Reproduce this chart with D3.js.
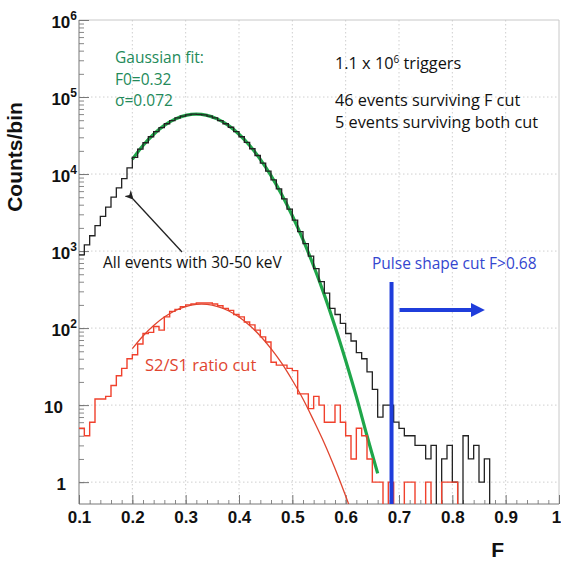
<!DOCTYPE html>
<html lang="en">
  <head>
    <meta charset="UTF-8"/>
    <title>Pulse shape discrimination</title>
    <script src="https://d3js.org/d3.v7.min.js"></script>
    <style>
      body { margin: 0; background: #fff; }
      text { font-family: 'Open Sans', sans-serif; }
      .axis-num { font-family: 'Liberation Sans', Arial, sans-serif; font-weight: bold; fill: #111; }
      .grid line { stroke: #cfcfcf; stroke-dasharray: 1.5,2.5; }
    </style>
  </head>
  <body>
    <script>
      // histogram binning (F), 0.01 wide bins starting at 0.10
      const binStart = 0.10
      const binWidth = 0.01

      // all events with 30-50 keV (counts per bin)
      const allEvents = [
        890, 1200, 1580, 2140, 2820, 3720, 5010, 6610, 8710, 12000,
        16500, 21000, 25500, 30500, 35500, 40000, 45000, 49500, 53500, 56500,
        58500, 60000, 59500, 58500, 56500, 53500, 49500, 45000, 40500, 35500,
        30500, 25800, 21300, 17400, 13900, 10900, 8400, 6400, 4750, 3500,
        2520, 1790, 1250, 860, 590, 400, 285, 180, 150, 115,
        85, 68, 48, 40, 27, 16, 7, 10, 10, 6,
        5, 4, 4, 3, 3, 2, 3, 0, 2, 3,
        1, 0, 4, 2, 3, 1, 2
      ]

      // events surviving the S2/S1 ratio cut
      const ratioCut = [
        5, 4, 6, 12, 12, 13, 18, 24, 30, 40,
        45, 62, 85, 88, 105, 94, 140, 165, 175, 190,
        200, 205, 212, 212, 212, 205, 195, 180, 170, 150,
        140, 120, 110, 94, 77, 66, 36, 33, 33, 30,
        28, 14, 14, 9, 13, 10, 6, 6, 10, 6,
        4, 2, 5, 4, 2, 1, 1, 0, 1, 0,
        0, 1, 1, 0, 0, 1, 0, 0, 1, 1,
        1
      ]

      // Gaussian fit of all events (F0=0.32, sigma=0.072)
      const gaussFitF = [0.20, 0.22, 0.24, 0.26, 0.28, 0.30, 0.32, 0.34, 0.36, 0.38, 0.40, 0.42,
                         0.44, 0.46, 0.48, 0.50, 0.52, 0.54, 0.56, 0.58, 0.60, 0.62, 0.64, 0.66]
      const gaussFitCounts = [15500, 23500, 32900, 42800, 51600, 57800, 60000, 57800, 51600, 42800, 32900, 23500,
                              15500, 9530, 5430, 2870, 1406, 640, 270, 105, 38, 12.9, 4.0, 1.3]

      // fit of the ratio-cut spectrum
      const ratioFitF = [0.20, 0.22, 0.24, 0.26, 0.28, 0.30, 0.32, 0.34, 0.36, 0.38, 0.40, 0.42,
                         0.44, 0.46, 0.48, 0.50, 0.52, 0.54, 0.56, 0.58, 0.60, 0.62]
      const ratioFitCounts = [54, 79, 108, 139, 168, 190, 203, 203, 190, 168, 139, 108,
                              79, 54, 35, 21, 12, 6.3, 3.2, 1.5, 0.66, 0.27]

      const xTicks = [0.1, 0.2, 0.3, 0.4, 0.5, 0.6, 0.7, 0.8, 0.9, 1]
      const yExponents = [0, 1, 2, 3, 4, 5, 6]
      const cutF = 0.686

      const outerWidth = 561,
            outerHeight = 563,
            margin = ({top: 20, right: 2, bottom: 59, left: 79}),
            width = outerWidth - margin.left - margin.right,
            height = outerHeight - margin.top - margin.bottom

      const svg = d3.select("body").append("svg")
          .attr("width", outerWidth)
          .attr("height", outerHeight)

      const defs = svg.append("defs")
      defs.append("clipPath").attr("id", "plot-clip")
        .append("rect").attr("width", width).attr("height", height)

      defs.append("marker")
          .attr("id", "head-black")
          .attr("viewBox", "0 0 10 10")
          .attr("refX", 1).attr("refY", 5)
          .attr("markerWidth", 9).attr("markerHeight", 9)
          .attr("markerUnits", "userSpaceOnUse")
          .attr("orient", "auto-start-reverse")
        .append("path").attr("d", "M0,5 L10,0 L7,5 L10,10 Z").attr("fill", "#222")

      defs.append("marker")
          .attr("id", "head-blue")
          .attr("viewBox", "0 0 10 10")
          .attr("refX", 2).attr("refY", 5)
          .attr("markerWidth", 14).attr("markerHeight", 14)
          .attr("markerUnits", "userSpaceOnUse")
          .attr("orient", "auto")
        .append("path").attr("d", "M0,0 L10,5 L0,10 Z").attr("fill", "#1f3ddb")

      const g = svg.append("g")
          .attr("transform", `translate(${margin.left},${margin.top})`)

      const xScale = d3.scaleLinear().domain([0.1, 1]).range([0, width])
      const yScale = d3.scaleLog().domain([0.52, 1e6]).range([height, 0])
      const yOf = v => v > 0 ? yScale(v) : height + 4

      // grid
      const grid = g.append("g").attr("class", "grid")
      grid.selectAll(".gx").data(xTicks.slice(1, -1)).join("line")
          .attr("x1", d => xScale(d)).attr("x2", d => xScale(d))
          .attr("y1", 0).attr("y2", height)
      grid.selectAll(".gy").data(yExponents.slice(0, -1)).join("line")
          .attr("x1", 0).attr("x2", width)
          .attr("y1", d => yScale(Math.pow(10, d))).attr("y2", d => yScale(Math.pow(10, d)))

      // frame
      g.append("path")
          .attr("d", `M0,0 H${width} V${height}`)
          .attr("fill", "none").attr("stroke", "#c8c8c8").attr("stroke-width", 1)

      // axes with inside ticks
      const minorX = d3.range(10, 100, 2).map(d => d / 100)
      g.append("g")
          .attr("transform", `translate(0,${height})`)
          .call(d3.axisTop(xScale).tickValues(minorX).tickSize(4).tickFormat(""))
          .call(a => a.select(".domain").remove())
          .selectAll("line").attr("stroke", "#888")

      const xAxis = g.append("g")
          .attr("transform", `translate(0,${height})`)
          .call(d3.axisTop(xScale).tickValues(xTicks).tickSize(9).tickFormat(""))
      xAxis.select(".domain").attr("stroke", "#777").attr("d", `M0,0H${width}`)
      xAxis.selectAll("line").attr("stroke", "#777")
      xAxis.selectAll(".tick").append("text")
          .attr("class", "axis-num")
          .attr("y", 19)
          .attr("x", d => d === 1 ? -3 : 0)
          .attr("text-anchor", "middle")
          .attr("font-size", 17)
          .text(d => d3.format("")(d))

      const minorY = yScale.ticks().filter(v => v >= 1)
      g.append("g")
          .call(d3.axisRight(yScale).tickValues(minorY).tickSize(5).tickFormat(""))
          .call(a => a.select(".domain").remove())
          .selectAll("line").attr("stroke", "#888")

      const yAxis = g.append("g")
          .call(d3.axisRight(yScale).tickValues(yExponents.map(e => Math.pow(10, e))).tickSize(10).tickFormat(""))
      yAxis.select(".domain").attr("stroke", "#777").attr("d", `M0,0V${height}`)
      yAxis.selectAll("line").attr("stroke", "#777")

      yAxis.selectAll(".tick").data(yExponents).each(function (e) {
        const t = d3.select(this).append("text")
            .attr("class", "axis-num")
            .attr("text-anchor", "end")
            .attr("font-size", 17)
            .attr("y", 7)
        if (e === 0) {
          t.attr("x", -13).text("1")
        } else if (e === 1) {
          t.attr("x", -16).text("10")
        } else {
          t.attr("x", -2)
          t.append("tspan").text("10")
          t.append("tspan").attr("dy", -8).attr("font-size", 12).text(e)
        }
      })

      g.append("text")
          .attr("class", "axis-num")
          .attr("font-size", 21)
          .attr("text-anchor", "middle")
          .attr("transform", `translate(${-57},${157 - margin.top}) rotate(-90)`)
          .text("Counts/bin")

      g.append("text")
          .attr("class", "axis-num")
          .attr("font-size", 21)
          .attr("text-anchor", "middle")
          .attr("x", xScale(0.885))
          .attr("y", height + 53)
          .text("F")

      // histogram outline helper
      const stepLine = d3.line()
          .x(d => xScale(d[0]))
          .y(d => yOf(d[1]))
          .curve(d3.curveStepAfter)

      const histPoints = counts => {
        const pts = counts.map((c, i) => [binStart + i * binWidth, c])
        const end = binStart + counts.length * binWidth
        pts.push([end, counts[counts.length - 1]])
        pts.push([end, 0])
        return pts
      }

      const fitLine = d3.line()
          .x(d => xScale(d[0]))
          .y(d => yScale(d[1]))
          .curve(d3.curveCatmullRom)

      const plot = g.append("g").attr("clip-path", "url(#plot-clip)")

      // Gaussian fit (under the black histogram)
      plot.append("path")
          .attr("d", fitLine(d3.zip(gaussFitF, gaussFitCounts)))
          .attr("fill", "none")
          .attr("stroke", "#1fa64a")
          .attr("stroke-width", 3.2)

      plot.append("path")
          .attr("d", stepLine(histPoints(allEvents)))
          .attr("fill", "none")
          .attr("stroke", "#222")
          .attr("stroke-width", 1.3)

      plot.append("path")
          .attr("d", stepLine(histPoints(ratioCut)))
          .attr("fill", "none")
          .attr("stroke", "#f0412d")
          .attr("stroke-width", 1.4)

      plot.append("path")
          .attr("d", fitLine(d3.zip(ratioFitF, ratioFitCounts)))
          .attr("fill", "none")
          .attr("stroke", "#e0452f")
          .attr("stroke-width", 1.3)

      // pulse shape cut
      plot.append("line")
          .attr("x1", xScale(cutF)).attr("x2", xScale(cutF))
          .attr("y1", 262).attr("y2", height)
          .attr("stroke", "#1f3ddb")
          .attr("stroke-width", 4)

      g.append("line")
          .attr("x1", xScale(cutF) + 8).attr("x2", xScale(0.84))
          .attr("y1", 290).attr("y2", 290)
          .attr("stroke", "#1f3ddb")
          .attr("stroke-width", 4)
          .attr("marker-end", "url(#head-blue)")

      g.append("text")
          .attr("x", 293).attr("y", 249)
          .attr("font-size", 15.5)
          .attr("fill", "#3446cf")
          .text("Pulse shape cut F>0.68")

      // annotations
      const green = "#238a5a"
      const gaussText = g.append("text").attr("font-size", 15.5).attr("fill", green)
      gaussText.append("tspan").attr("x", 36).attr("y", 43).text("Gaussian fit:")
      gaussText.append("tspan").attr("x", 36).attr("y", 65).text("F0=0.32")
      gaussText.append("tspan").attr("x", 36).attr("y", 86).text("σ=0.072")

      const info = g.append("text").attr("font-size", 16.3).attr("fill", "#111")
      const l1 = info.append("tspan").attr("x", 256).attr("y", 49)
      l1.append("tspan").text("1.1 x 10")
      l1.append("tspan").attr("dy", -6).attr("font-size", 10).text("6")
      l1.append("tspan").attr("dy", 6).text(" triggers")
      info.append("tspan").attr("x", 256).attr("y", 86).text("46 events surviving F cut")
      info.append("tspan").attr("x", 256).attr("y", 108).text("5 events surviving both cut")

      g.append("line")
          .attr("x1", 103).attr("y1", 232)
          .attr("x2", 54).attr("y2", 179)
          .attr("stroke", "#222")
          .attr("stroke-width", 1.3)
          .attr("marker-end", "url(#head-black)")

      g.append("text")
          .attr("x", 24).attr("y", 248)
          .attr("font-size", 15.5)
          .attr("fill", "#111")
          .text("All events with 30-50 keV")

      g.append("text")
          .attr("x", 66).attr("y", 351)
          .attr("font-size", 16.5)
          .attr("fill", "#e0452f")
          .text("S2/S1 ratio cut")
    </script>
  </body>
</html>
